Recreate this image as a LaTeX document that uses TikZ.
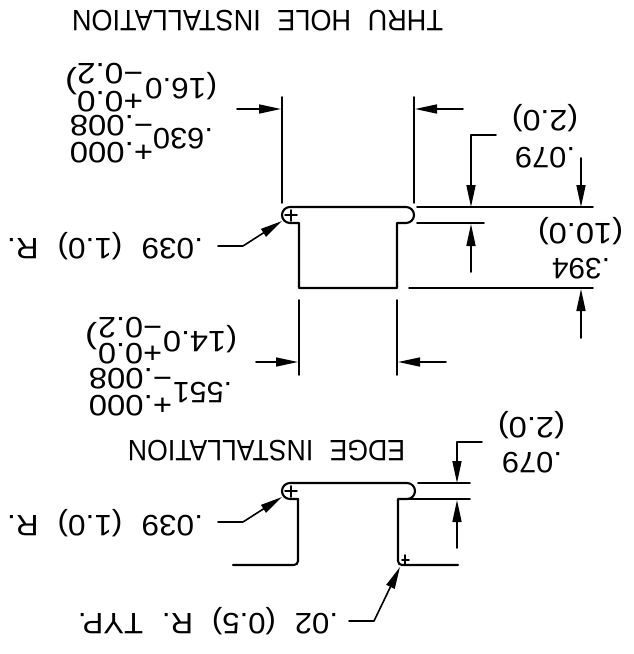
\documentclass[tikz,border=0pt]{standalone}
\usepackage{fontspec}
\setmainfont[WordSpace=2.2]{Liberation Sans}
\usetikzlibrary{arrows.meta}
\newsavebox{\txbox}
\tikzset{
  ln/.style={line width=1.6pt,line cap=round,line join=round},
  thk/.style={line width=2.1pt,line cap=round,line join=round},
  arr/.style={ln,-{Triangle[length=22pt,width=9pt]}},
  lbl/.style={anchor=base,rotate=180,inner sep=0pt,outer sep=0pt}
}
% name, x1, x2, baseline y (top in image), text
\newcommand{\tx}[5]{%
  \node[lbl] (#1) at ({(#2+#3)/2},#4) {%
    \fontsize{29.5}{30}\selectfont
    \sbox{\txbox}{#5}%
    \pgfmathsetmacro{\txf}{(#3-#2)/\wd\txbox}%
    \scalebox{\txf}[1]{\usebox{\txbox}}};}
\begin{document}
\begin{tikzpicture}[x=1pt,y=-1pt]
\useasboundingbox (0,0) rectangle (634,654);
% ---- thru hole
\draw[thk] (290,207) -- (406,207) arc[start angle=90,end angle=-90,radius=8pt] -- (397,223) -- (397,288) -- (299,288) -- (299,223) -- (290,223) arc[start angle=270,end angle=90,radius=8pt];
\draw[ln] (285,215) -- (297,215) (291,210) -- (291,221);
\draw[ln] (282,97) -- (282,203);
\draw[ln] (414,97) -- (414,203);
\draw[arr] (237,109) -- (281,109);
\draw[arr] (463,109) -- (415,109);
\draw[ln] (417,207) -- (593,207);
\draw[ln] (417,223) -- (484,223);
\draw[ln] (409,288) -- (593,288);
\draw[ln] (299,300) -- (299,375);
\draw[ln] (397,300) -- (397,375);
\draw[arr] (256,362) -- (298,362);
\draw[arr] (446,362) -- (398,362);
\draw[arr] (218,246) -- (243,246) -- (282,221);
\draw[arr] (496,135) -- (471,135) -- (471,207);
\draw[arr] (471,272) -- (471,224);
\draw[arr] (581,158) -- (581,207);
\draw[arr] (581,338) -- (581,289);
% ---- edge
\draw[thk] (290,483) -- (407,483) arc[start angle=90,end angle=-90,radius=8pt];
\draw[thk] (290,483) arc[start angle=90,end angle=270,radius=8pt] -- (298,499);
\draw[thk] (233,565) -- (294,565) arc[start angle=-90,end angle=0,radius=4pt] -- (298,499);
\draw[thk] (407,499) -- (398,499) -- (398,561) arc[start angle=180,end angle=270,radius=4pt] -- (458,565);
\draw[ln] (418,483) -- (470,483);
\draw[ln] (407,499) -- (470,499);
\draw[ln] (285,491) -- (297,491) (291,486) -- (291,497);
\draw[ln] (402,560) -- (409,560) (405,555) -- (405,565);
\draw[arr] (482,442) -- (457,442) -- (457,483);
\draw[arr] (457,548) -- (457,500);
\draw[arr] (218,522) -- (243,522) -- (282,497);
\draw[arr] (349,621) -- (374,621) -- (400,567);
% ---- labels
\tx{t1}{72}{443}{10}{THRU HOLE INSTALLATION}
\tx{t2}{145}{217}{78}{(16.0}
\tx{t3}{77}{143}{91}{+0.0}
\tx{t4}{77}{143}{63}{−0.2}
\tx{t5}{65}{77}{73}{)}
\tx{t6}{153}{213}{128}{.630}
\tx{t7}{70}{153}{142}{+.000}
\tx{t8}{70}{153}{115}{−.008}
\tx{t9}{7}{203}{238}{.039 (1.0) R.}
\tx{t10}{515}{575}{147}{.079}
\tx{t11}{512}{578}{110}{(2.0)}
\tx{t12}{552}{610}{258}{.394}
\tx{t13}{538}{623}{223}{(10.0)}
\tx{t14}{163}{237}{331}{(14.0}
\tx{t15}{98}{162}{343}{+0.0}
\tx{t16}{98}{162}{317}{−0.2}
\tx{t17}{85}{97}{328}{)}
\tx{t18}{173}{232}{382}{.551}
\tx{t19}{89}{172}{395}{+.000}
\tx{t20}{89}{172}{368}{−.008}
\tx{t21}{128}{405}{440}{EDGE INSTALLATION}
\tx{t22}{502}{562}{452}{.079}
\tx{t23}{498}{565}{417}{(2.0)}
\tx{t24}{7}{203}{515}{.039 (1.0) R.}
\tx{t25}{78}{338}{613}{.02 (0.5) R. TYP.}
\end{tikzpicture}
\end{document}
